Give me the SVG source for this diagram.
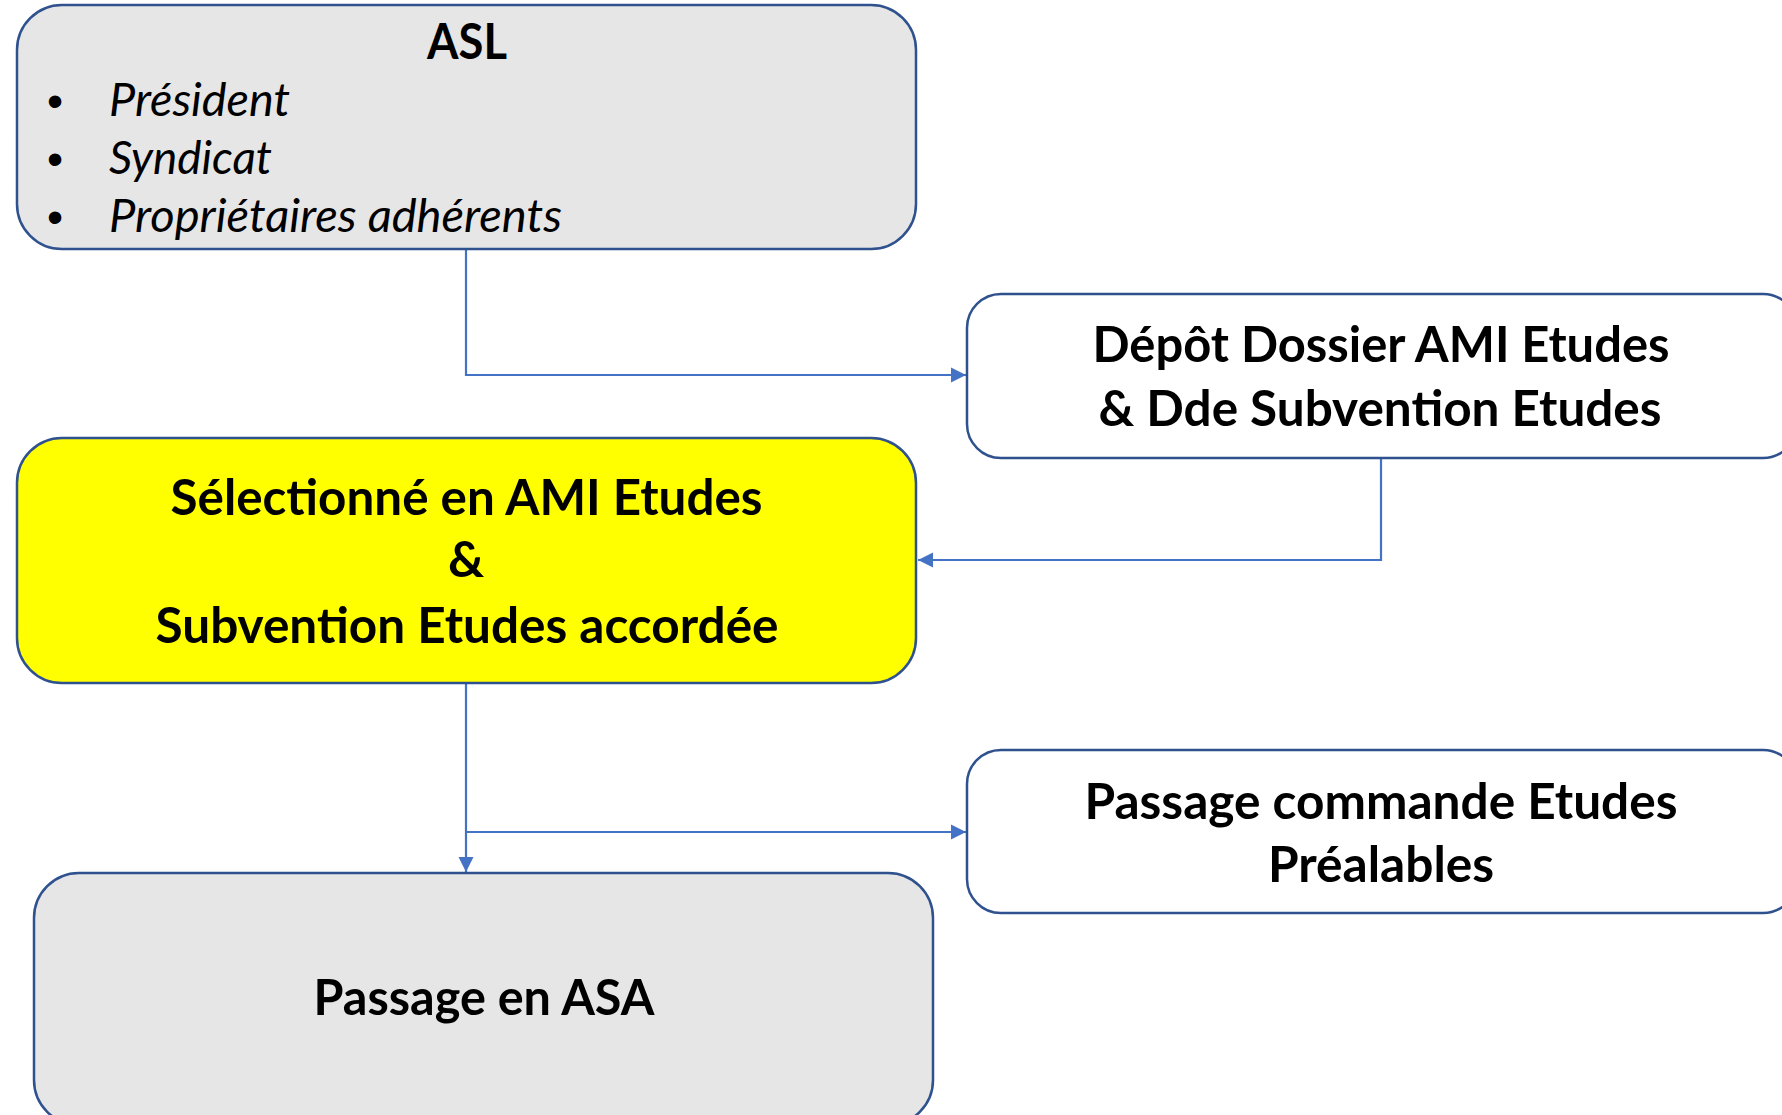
<svg xmlns="http://www.w3.org/2000/svg" width="1782" height="1115" viewBox="0 0 1782 1115">
<style>
.box{stroke:#2f528f;stroke-width:2.5}
.grey{fill:#e6e6e6}
.white{fill:#ffffff}
.yellow{fill:#ffff00}
.b{font-family:Lato,"Open Sans",sans-serif;font-weight:bold;font-size:50px;fill:#000;text-anchor:middle}
.i{font-family:Lato,"Open Sans",sans-serif;font-style:italic;font-size:46px;fill:#000}
.dot{font-family:"Liberation Sans",sans-serif;font-size:46px;fill:#000;text-anchor:middle}
.c{fill:none;stroke:#4472c4;stroke-width:2.2}
</style>
<defs>
<marker id="arr" viewBox="0 0 10 10" refX="10" refY="5" markerWidth="7" markerHeight="7" orient="auto" markerUnits="strokeWidth">
<path d="M0,0 L10,5 L0,10 z" fill="#4472c4"/>
</marker>
</defs>
<rect width="1782" height="1115" fill="#ffffff"/>
<g id="connectors">
<path class="c" d="M466,249 V375 H966" marker-end="url(#arr)"/>
<path class="c" d="M1381,458 V560 H918" marker-end="url(#arr)"/>
<path class="c" d="M466,683 V872" marker-end="url(#arr)"/>
<path class="c" d="M466,832 H966" marker-end="url(#arr)"/>
</g>
<g id="asl">
<rect class="box grey" x="17" y="5" width="899" height="244" rx="45" ry="45"/>
<text class="b" x="467" y="59" textLength="80" lengthAdjust="spacingAndGlyphs">ASL</text>
<text class="dot" x="55" y="117">•</text>
<text class="dot" x="55" y="175">•</text>
<text class="dot" x="55" y="233">•</text>
<text class="i" x="109" y="116" textLength="181" lengthAdjust="spacingAndGlyphs">Président</text>
<text class="i" x="109" y="174" textLength="163" lengthAdjust="spacingAndGlyphs">Syndicat</text>
<text class="i" x="109" y="232" textLength="453" lengthAdjust="spacingAndGlyphs">Propriétaires adhérents</text>
</g>
<g id="depot">
<rect class="box white" x="967" y="294" width="830" height="164" rx="34" ry="34"/>
<text class="b" x="1381" y="362" textLength="577" lengthAdjust="spacingAndGlyphs">Dépôt Dossier AMI Etudes</text>
<text class="b" x="1380" y="426" textLength="563" lengthAdjust="spacingAndGlyphs">&amp; Dde Subvention Etudes</text>
</g>
<g id="selectionne">
<rect class="box yellow" x="17" y="438" width="899" height="245" rx="45" ry="45"/>
<text class="b" x="466.5" y="515" textLength="592" lengthAdjust="spacingAndGlyphs">Sélectionné en AMI Etudes</text>
<text class="b" x="466" y="577">&amp;</text>
<text class="b" x="467" y="643" textLength="623" lengthAdjust="spacingAndGlyphs">Subvention Etudes accordée</text>
</g>
<g id="commande">
<rect class="box white" x="967" y="750" width="830" height="163" rx="34" ry="34"/>
<text class="b" x="1381" y="819" textLength="593" lengthAdjust="spacingAndGlyphs">Passage commande Etudes</text>
<text class="b" x="1381" y="882" textLength="226" lengthAdjust="spacingAndGlyphs">Préalables</text>
</g>
<g id="asa">
<rect class="box grey" x="34" y="873" width="899" height="252" rx="45" ry="45"/>
<text class="b" x="484" y="1015" textLength="341" lengthAdjust="spacingAndGlyphs">Passage en ASA</text>
</g>
</svg>
